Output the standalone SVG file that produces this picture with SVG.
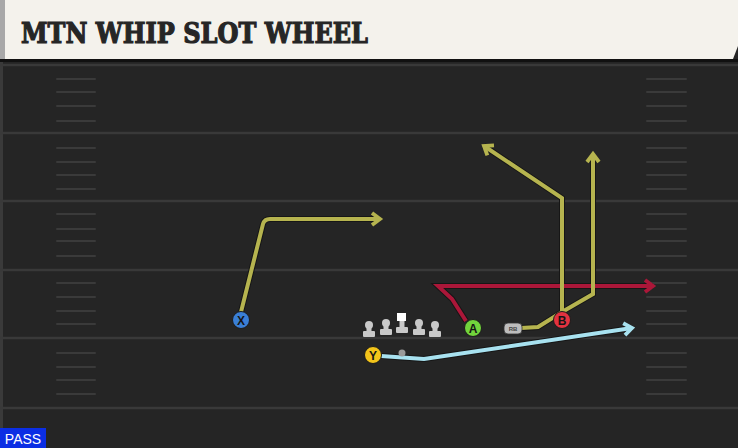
<svg xmlns="http://www.w3.org/2000/svg" width="738" height="448" viewBox="0 0 738 448">
<style>
.yard{stroke:#393939;stroke-width:2.5}
.hash{stroke:#3a3a3a;stroke-width:2;stroke-linecap:round}
.route{fill:none;stroke-width:4;stroke-linejoin:miter;stroke-linecap:butt}
.halo{fill:none;stroke:#161616;stroke-width:6;stroke-linejoin:miter}
.olive{stroke:#b6b44f}
.red{stroke:#ab1739}
.blue{stroke:#a8e2f0}
.pl{stroke:#1c1c1c;stroke-width:1}
.lbl{font-family:"Liberation Sans",Arial,sans-serif;font-weight:bold;font-size:12px;fill:#151515;text-anchor:middle}
.ol{fill:#c9c9c9}
</style>
<defs>
<marker id="arO" markerUnits="userSpaceOnUse" markerWidth="16" markerHeight="16" viewBox="-12 -8 16 16" refX="0" refY="0" orient="auto"><path d="M-8,-6 L0,0 L-8,6" fill="none" stroke="#b6b44f" stroke-width="3.8"/></marker>
<marker id="arR" markerUnits="userSpaceOnUse" markerWidth="16" markerHeight="16" viewBox="-12 -8 16 16" refX="0" refY="0" orient="auto"><path d="M-8,-6 L0,0 L-8,6" fill="none" stroke="#ab1739" stroke-width="3.8"/></marker>
<marker id="arB" markerUnits="userSpaceOnUse" markerWidth="16" markerHeight="16" viewBox="-12 -8 16 16" refX="0" refY="0" orient="auto"><path d="M-8,-6 L0,0 L-8,6" fill="none" stroke="#a8e2f0" stroke-width="3.8"/></marker>
</defs>
<!-- field -->
<rect x="0" y="0" width="738" height="448" fill="#252525"/>
<rect x="0" y="60" width="3" height="388" fill="#3a3a3a"/>
<g id="field">
<line class="yard" x1="0" y1="65" x2="738" y2="65"/>
<line class="yard" x1="0" y1="133" x2="738" y2="133"/>
<line class="yard" x1="0" y1="201" x2="738" y2="201"/>
<line class="yard" x1="0" y1="270" x2="738" y2="270"/>
<line class="yard" x1="0" y1="338" x2="738" y2="338"/>
<line class="yard" x1="0" y1="408" x2="738" y2="408"/>
<g id="hash-left">
<line class="hash" x1="57" y1="79" x2="95" y2="79"/><line class="hash" x1="57" y1="92" x2="95" y2="92"/><line class="hash" x1="57" y1="106" x2="95" y2="106"/><line class="hash" x1="57" y1="121" x2="95" y2="121"/>
<line class="hash" x1="57" y1="148" x2="95" y2="148"/><line class="hash" x1="57" y1="162" x2="95" y2="162"/><line class="hash" x1="57" y1="175" x2="95" y2="175"/><line class="hash" x1="57" y1="189" x2="95" y2="189"/>
<line class="hash" x1="57" y1="214" x2="95" y2="214"/><line class="hash" x1="57" y1="229" x2="95" y2="229"/><line class="hash" x1="57" y1="241" x2="95" y2="241"/><line class="hash" x1="57" y1="256" x2="95" y2="256"/>
<line class="hash" x1="57" y1="283" x2="95" y2="283"/><line class="hash" x1="57" y1="297" x2="95" y2="297"/><line class="hash" x1="57" y1="311" x2="95" y2="311"/><line class="hash" x1="57" y1="324" x2="95" y2="324"/>
<line class="hash" x1="57" y1="353" x2="95" y2="353"/><line class="hash" x1="57" y1="367" x2="95" y2="367"/><line class="hash" x1="57" y1="380" x2="95" y2="380"/><line class="hash" x1="57" y1="394" x2="95" y2="394"/>
</g>
<g id="hash-right">
<line class="hash" x1="647" y1="79" x2="686" y2="79"/><line class="hash" x1="647" y1="92" x2="686" y2="92"/><line class="hash" x1="647" y1="106" x2="686" y2="106"/><line class="hash" x1="647" y1="121" x2="686" y2="121"/>
<line class="hash" x1="647" y1="148" x2="686" y2="148"/><line class="hash" x1="647" y1="162" x2="686" y2="162"/><line class="hash" x1="647" y1="175" x2="686" y2="175"/><line class="hash" x1="647" y1="189" x2="686" y2="189"/>
<line class="hash" x1="647" y1="214" x2="686" y2="214"/><line class="hash" x1="647" y1="229" x2="686" y2="229"/><line class="hash" x1="647" y1="241" x2="686" y2="241"/><line class="hash" x1="647" y1="256" x2="686" y2="256"/>
<line class="hash" x1="647" y1="283" x2="686" y2="283"/><line class="hash" x1="647" y1="297" x2="686" y2="297"/><line class="hash" x1="647" y1="311" x2="686" y2="311"/><line class="hash" x1="647" y1="324" x2="686" y2="324"/>
<line class="hash" x1="647" y1="353" x2="686" y2="353"/><line class="hash" x1="647" y1="367" x2="686" y2="367"/><line class="hash" x1="647" y1="380" x2="686" y2="380"/><line class="hash" x1="647" y1="394" x2="686" y2="394"/>
</g>
</g>
<!-- header -->
<g id="header">
<rect x="0" y="59" width="738" height="3" fill="#111"/>
<polygon points="0,0 738,0 738,46 733,59 0,59" fill="#f4f2ec"/>
<rect x="0" y="0" width="5" height="59" fill="#a8a8a8"/>
<text x="21" y="43" font-family="'DejaVu Serif',serif" font-weight="bold" font-size="28" fill="#262626" stroke="#262626" stroke-width="1.2" textLength="347" lengthAdjust="spacingAndGlyphs">MTN WHIP SLOT WHEEL</text>
</g>
<!-- connectors -->
<g id="connectors">
<path class="halo" d="M241,312 L263,224 Q264.5,219 270,219 L380,219"/>
<path class="halo" d="M466,321 L452,299 L438,286 L653,286"/>
<path class="halo" d="M562,312 L562,198 L484,146"/>
<path class="halo" d="M521,328 L538,327 L562,312 L593,294 L593,154"/>
<path class="halo" d="M381,356 L424,359 L632,328"/>
<path class="route olive" d="M241,312 L263,224 Q264.5,219 270,219 L380,219" marker-end="url(#arO)"/>
<path class="route red" d="M466,321 L452,299 L438,286 L653,286" marker-end="url(#arR)"/>
<path class="route olive" d="M562,312 L562,198 L484,146" marker-end="url(#arO)"/>
<path class="route olive" d="M521,328 L538,327 L562,312 L593,294 L593,154" marker-end="url(#arO)"/>
<path class="route blue" d="M381,356 L424,359 L632,328" marker-end="url(#arB)"/>
</g>
<!-- offensive line -->
<g id="OL">
<g id="LT"><circle class="ol" cx="369" cy="325" r="4"/><rect class="ol" x="366.5" y="325" width="5" height="8"/><rect class="ol" x="363" y="331" width="12" height="6" rx="1"/></g>
<g id="LG"><circle class="ol" cx="386" cy="323" r="4"/><rect class="ol" x="383.5" y="323" width="5" height="8"/><rect class="ol" x="380" y="329" width="12" height="6" rx="1"/></g>
<g id="C"><rect x="397" y="313" width="9" height="8" fill="#ffffff"/><rect class="ol" x="399.5" y="321" width="5" height="7"/><rect class="ol" x="396" y="327" width="12" height="6" rx="1"/></g>
<g id="RG"><circle class="ol" cx="419" cy="323" r="4"/><rect class="ol" x="416.5" y="323" width="5" height="8"/><rect class="ol" x="413" y="329" width="12" height="6" rx="1"/></g>
<g id="RT"><circle class="ol" cx="435" cy="325" r="4"/><rect class="ol" x="432.5" y="325" width="5" height="8"/><rect class="ol" x="429" y="331" width="12" height="6" rx="1"/></g>
</g>
<g id="ball"><circle cx="402" cy="353" r="3.5" fill="#9a9a9a"/></g>
<!-- skill players -->
<g id="X"><circle class="pl" cx="241" cy="320" r="8.5" fill="#3a7fd6"/><text class="lbl" x="241" y="324.5">X</text></g>
<g id="Y"><circle class="pl" cx="373" cy="355" r="8.5" fill="#f3c41a"/><text class="lbl" x="373" y="359.5">Y</text></g>
<g id="A"><circle class="pl" cx="473" cy="328" r="8.5" fill="#72d43c"/><text class="lbl" x="473" y="332.5">A</text></g>
<g id="B"><circle class="pl" cx="562" cy="320" r="8.5" fill="#e3323f"/><text class="lbl" x="562" y="324.5">B</text></g>
<g id="RB"><rect x="504" y="323" width="18" height="11" rx="4" fill="#bdbdbd" stroke="#333" stroke-width="0.8"/><text x="513" y="331" font-family="'Liberation Sans',Arial,sans-serif" font-size="6" font-weight="bold" fill="#444" text-anchor="middle">RB</text></g>
<!-- pass label -->
<g id="pass"><rect x="0" y="428" width="46" height="20" fill="#0b2ee4"/><text x="23" y="444" font-family="'Liberation Sans',Arial,sans-serif" font-size="14" fill="#ffffff" text-anchor="middle">PASS</text></g>
</svg>
